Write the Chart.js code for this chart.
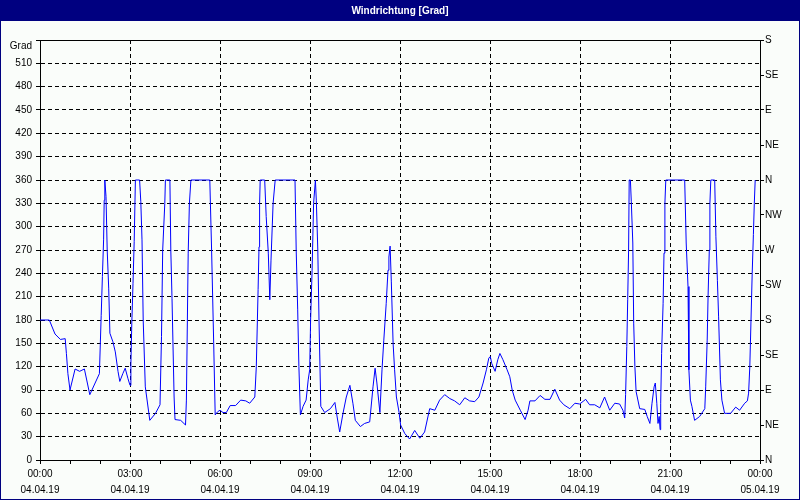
<!DOCTYPE html>
<html><head><meta charset="utf-8">
<script src="https://cdn.jsdelivr.net/npm/chart.js@4/dist/chart.umd.min.js"></script>
<style>html,body{margin:0;padding:0;background:#fff}canvas{display:block}</style>
</head><body>
<canvas id="c" width="800" height="500"></canvas>
<script>
const chartTitle = 'Windrichtung [Grad]';
const leftAxisUnit = 'Grad';
const compassLabels = ['N','NE','E','SE','S','SW','W','NW','N','NE','E','SE','S'];
const timeLabels = ['00:00','03:00','06:00','09:00','12:00','15:00','18:00','21:00','00:00'];
const dateLabels = ['04.04.19','04.04.19','04.04.19','04.04.19','04.04.19','04.04.19','04.04.19','04.04.19','05.04.19'];

// time in hours since 04.04.19 00:00
const hours = [
0,0.31,0.5,0.68,0.84,0.88,0.93,1.0,1.17,1.32,1.48,1.66,1.98,2.04,2.08,2.12,2.14,2.16,2.2,2.24,2.29,2.33,2.43,2.51,2.6,2.66,2.76,2.84,2.93,3.0,
3.03,3.06,3.1,3.14,3.18,3.32,3.36,3.4,3.44,3.51,3.66,3.85,4.0,4.05,4.09,4.16,4.18,4.33,4.36,4.4,4.47,4.5,4.69,4.85,4.88,4.94,4.98,5.03,5.66,5.72,
5.79,5.84,5.92,6.0,6.1,6.21,6.34,6.52,6.69,6.86,6.99,7.16,7.21,7.27,7.3,7.32,7.34,7.49,7.54,7.61,7.66,7.7,7.77,7.84,8.5,8.54,8.59,8.63,8.68,8.77,
8.87,8.94,8.99,9.02,9.07,9.12,9.18,9.21,9.26,9.3,9.36,9.49,9.68,9.83,9.91,9.99,10.1,10.21,10.33,10.43,10.51,10.68,10.82,10.99,11.1,11.17,11.23,11.33,11.4,11.46,
11.54,11.6,11.63,11.67,11.71,11.77,11.82,11.88,11.97,12.02,12.16,12.32,12.49,12.66,12.82,12.99,13.16,13.32,13.49,13.66,13.82,13.99,14.16,14.32,14.49,14.63,14.77,14.88,14.96,15.01,
15.06,15.17,15.26,15.33,15.43,15.57,15.66,15.74,15.84,16.01,16.17,16.27,16.33,16.5,16.67,16.83,17.0,17.16,17.32,17.46,17.66,17.83,17.99,18.19,18.32,18.49,18.66,18.82,18.99,19.16,
19.32,19.43,19.49,19.52,19.56,19.59,19.62,19.64,19.68,19.71,19.76,19.79,19.83,19.87,19.99,20.16,20.24,20.33,20.4,20.47,20.51,20.56,20.6,20.64,20.67,20.69,20.72,20.77,20.8,20.83,
20.86,21.49,21.54,21.6,21.63,21.68,21.73,21.82,21.99,22.16,22.19,22.24,22.27,22.31,22.33,22.36,22.49,22.53,22.58,22.62,22.68,22.73,22.82,23.02,23.19,23.32,23.49,23.58,23.62,23.66,
23.7,23.74,23.78,23.81,23.84
];
// wind direction in degrees
const directions = [
180,180,162,155,156,137,111,90,117,114,117,84,111,186,236,283,334,360,339,270,221,163,152,139,114,101,111,118,105,96,
124,176,227,281,360,360,332,283,180,94,51,60,71,159,270,330,360,360,270,208,81,52,51,45,77,266,330,360,360,270,
150,58,62,64,61,61,70,70,77,76,73,81,120,219,274,330,360,360,313,266,206,257,330,360,360,270,193,120,58,69,
77,103,116,180,244,330,360,334,270,180,69,61,66,74,54,36,60,81,96,73,51,43,47,49,94,118,99,61,116,154,
201,244,261,275,230,150,116,81,61,45,34,27,38,28,36,66,64,77,84,79,76,71,80,76,75,81,99,116,131,133,
124,114,129,137,129,116,107,90,77,64,52,64,76,76,83,78,78,91,77,71,66,73,72,78,71,71,67,81,64,73,
72,64,54,84,146,206,270,360,360,332,279,176,120,88,66,65,56,47,73,94,99,73,47,56,39,73,137,201,266,330,
360,360,279,223,116,77,69,51,56,66,94,154,212,270,330,360,360,287,231,184,103,77,60,60,68,64,73,76,86,120,
180,240,290,330,360
];

const BG = '#fafdfa';
const NAVY = '#000080';
const tickFont = {family: 'Liberation Sans, Arial, sans-serif', size: 10};

const framePlugin = {
  id: 'frame',
  beforeDraw(chart) {
    const ctx = chart.ctx;
    ctx.save();
    ctx.fillStyle = BG;
    ctx.fillRect(0, 0, chart.width, chart.height);
    ctx.fillStyle = NAVY;
    ctx.fillRect(0, 0, chart.width, 21);
    ctx.strokeStyle = NAVY;
    ctx.lineWidth = 1;
    ctx.strokeRect(0.5, 0.5, chart.width - 1, chart.height - 1);
    ctx.restore();
  },
  afterDraw(chart) {
    const a = chart.chartArea, ctx = chart.ctx;
    ctx.save();
    ctx.strokeStyle = '#000';
    ctx.lineWidth = 1;
    ctx.beginPath();
    ctx.moveTo(Math.round(a.left) + 0.5, Math.round(a.top) + 0.5);
    ctx.lineTo(Math.round(a.right) + 0.5, Math.round(a.top) + 0.5);
    ctx.stroke();
    ctx.restore();
  }
};

new Chart(document.getElementById('c'), {
  type: 'line',
  data: {
    datasets: [{
      data: hours.map((h, i) => ({x: h, y: directions[i]})),
      borderColor: '#0000ff',
      borderWidth: 1,
      pointRadius: 0,
      tension: 0,
      fill: false,
      yAxisID: 'y'
    }]
  },
  options: {
    responsive: false,
    animation: false,
    devicePixelRatio: 1,
    layout: {padding: 0},
    plugins: {
      legend: {display: false},
      tooltip: {enabled: false},
      title: {
        display: true,
        text: chartTitle,
        color: '#ffffff',
        font: {family: 'Liberation Sans, Arial, sans-serif', size: 10, weight: 'bold', lineHeight: 1.2},
        padding: {top: 5, bottom: 23}
      }
    },
    scales: {
      x: {
        type: 'linear',
        min: 0, max: 24,
        afterFit(s) { s.height = 40; },
        afterBuildTicks(s) { s.ticks = Array.from({length: 25}, (_, i) => ({value: i})); },
        ticks: {
          autoSkip: false, maxRotation: 0, minRotation: 0,
          color: '#000', padding: 2,
          font: {family: tickFont.family, size: 10, lineHeight: 1.6},
          callback: (v) => (v % 3 === 0 ? [timeLabels[v / 3], dateLabels[v / 3]] : '')
        },
        grid: {
          color: (c) => (c.tick && c.tick.value % 3 === 0 && c.tick.value > 0 && c.tick.value < 24 ? '#000' : 'rgba(0,0,0,0)'),
          tickColor: '#000', tickLength: 4, lineWidth: 1, tickWidth: 1
        },
        border: {display: true, color: '#000', width: 1, dash: [4, 3]}
      },
      y: {
        type: 'linear', position: 'left',
        min: 0, max: 540,
        afterFit(s) { s.width = 40; },
        afterBuildTicks(s) { s.ticks = Array.from({length: 19}, (_, i) => ({value: i * 30})); },
        ticks: {
          autoSkip: false,
          color: '#000', padding: 4, font: tickFont,
          callback: (v) => (v === 540 ? ['', leftAxisUnit] : String(v))
        },
        grid: {
          color: (c) => (c.tick && c.tick.value > 0 && c.tick.value < 540 ? '#000' : 'rgba(0,0,0,0)'),
          tickColor: '#000', tickLength: 4, lineWidth: 1, tickWidth: 1
        },
        border: {display: true, color: '#000', width: 1, dash: [4, 3]}
      },
      y2: {
        type: 'linear', position: 'right',
        min: 0, max: 540,
        afterFit(s) { s.width = 40; },
        afterBuildTicks(s) { s.ticks = compassLabels.map((_, i) => ({value: i * 45})); },
        ticks: {
          autoSkip: false,
          color: '#000', padding: 1, font: tickFont,
          callback: (v) => compassLabels[Math.round(v / 45)]
        },
        grid: {drawOnChartArea: false, color: '#000', tickColor: '#000', tickLength: 4, tickWidth: 1},
        border: {display: true, color: '#000', width: 1}
      }
    }
  },
  plugins: [framePlugin]
});
</script>
</body></html>
